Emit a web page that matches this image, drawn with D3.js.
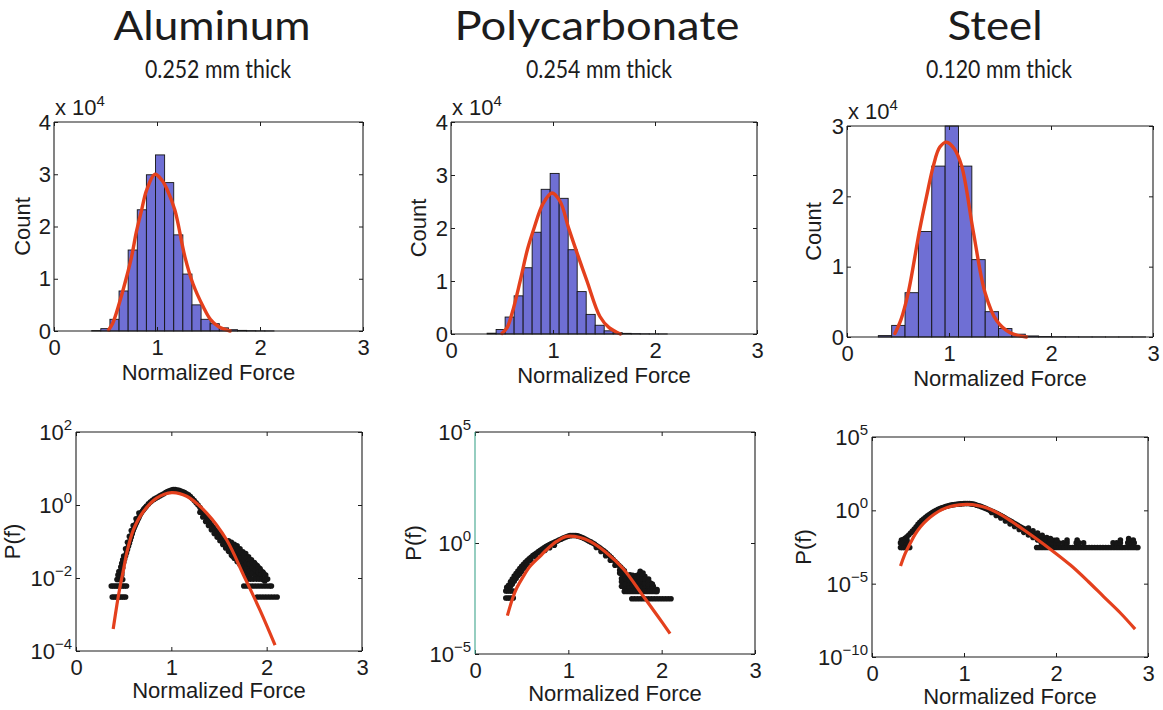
<!DOCTYPE html>
<html>
<head>
<meta charset="utf-8">
<script src="https://cdn.jsdelivr.net/npm/d3@7"></script>
<style>
  html, body { margin: 0; padding: 0; background: #fff; }
  svg { display: block; }
</style>
</head>
<body>
<svg id="chart" width="1163" height="710"></svg>
<script>
// ---------------- data ----------------
const materials   = ["Aluminum", "Polycarbonate", "Steel"];
const thicknesses = ["0.252 mm thick", "0.254 mm thick", "0.120 mm thick"];
const forceTicks  = [0, 1, 2, 3];
const countTicks  = [[0, 1, 2, 3, 4], [0, 1, 2, 3, 4], [0, 1, 2, 3]];   // x 10^4
const logTicks    = [[2, 0, -2, -4], [5, 0, -5], [5, 0, -5, -10]];      // exponents

// histograms: first bin edge, bin width, counts per bin
const alBinStart = 0.366, alBinWidth = 0.0885;
const alCounts = [80, 450, 2240, 7660, 15500, 23200, 29900, 33700, 28400, 18400,
                  10900, 5000, 2240, 1400, 600, 250, 120, 60, 30, 20];
const pcBinStart = 0.354, pcBinWidth = 0.0883;
const pcCounts = [150, 850, 3200, 7200, 12500, 19200, 27300, 30300, 25600, 15900,
                  8000, 3700, 1650, 600, 250, 120, 60, 30, 15, 10];
const stBinStart = 0.307, stBinWidth = 0.131;
const stCounts = [200, 1650, 6300, 15000, 24300, 30000, 24300, 11000, 3600, 1200,
                  400, 150, 60, 30, 20, 10, 10, 5, 5, 5];

// fitted curves over the histograms [force, count]
const alHistFit = [[0.53,200],[0.57,1500],[0.623,4600],[0.70,10000],[0.753,14200],[0.80,19000],
  [0.85,23100],[0.90,27000],[0.98,30000],[1.05,28800],[1.10,27000],[1.174,23100],[1.271,14200],
  [1.35,9000],[1.45,4600],[1.52,2200],[1.60,800],[1.71,0]];
const pcHistFit = [[0.50,100],[0.55,1200],[0.60,4000],[0.678,10000],[0.75,16000],[0.815,20000],
  [0.90,24500],[0.99,26600],[1.07,25000],[1.153,20000],[1.25,14500],[1.333,10000],[1.46,3300],
  [1.55,1200],[1.66,0]];
const stHistFit = [[0.47,500],[0.53,2500],[0.601,6340],[0.709,15000],[0.78,20000],[0.846,24300],
  [0.91,27000],[0.977,27700],[1.05,26800],[1.124,24300],[1.238,15000],[1.353,6340],[1.468,2300],
  [1.60,600],[1.76,0]];

// probability density samples [force, log10 P(f)]
const alPdf = [
  [0.38,-2.52],[0.40,-2.52],[0.42,-2.52],[0.44,-2.52],[0.46,-2.52],[0.48,-2.52],[0.50,-2.52],[0.52,-2.52],
  [0.37,-2.22],[0.39,-2.22],[0.41,-2.22],[0.43,-2.22],[0.45,-2.22],[0.47,-2.22],[0.49,-2.22],[0.51,-2.22],[0.53,-2.22],
  [0.43,-2.04],[0.45,-2.04],[0.47,-2.04],[0.49,-2.04],[0.44,-1.92],[0.46,-1.92],[0.48,-1.92],[0.45,-1.82],[0.47,-1.80],
  [0.48,-1.85],[0.49,-1.72],[0.50,-1.57],[0.51,-1.48],[0.52,-1.39],[0.53,-1.31],[0.54,-1.22],[0.55,-1.13],
  [0.56,-1.05],[0.57,-0.96],[0.58,-0.88],[0.59,-0.79],[0.60,-0.70],[0.61,-0.63],[0.62,-0.57],[0.63,-0.51],
  [0.64,-0.45],[0.65,-0.39],[0.66,-0.34],[0.67,-0.28],[0.68,-0.23],[0.69,-0.19],[0.70,-0.16],[0.71,-0.12],
  [0.72,-0.09],[0.73,-0.06],[0.74,-0.03],[0.76,0.03],[0.78,0.08],[0.80,0.12],[0.82,0.16],[0.84,0.19],
  [0.86,0.22],[0.88,0.25],[0.90,0.28],[0.92,0.31],[0.94,0.34],[0.96,0.37],[0.98,0.39],[1.00,0.41],
  [1.02,0.42],[1.04,0.42],[1.06,0.41],[1.08,0.40],[1.10,0.38],[1.12,0.36],[1.14,0.34],[1.16,0.31],
  [1.18,0.28],[1.20,0.23],[1.22,0.18],[1.24,0.12],[1.26,0.06],[1.28,0.00],[1.30,-0.07],[1.32,-0.15],
  [1.34,-0.24],[1.36,-0.32],[1.38,-0.40],[1.40,-0.47],[1.42,-0.54],[1.44,-0.61],[1.46,-0.68],[1.48,-0.75],
  [1.50,-0.81],[1.52,-0.87],[1.54,-0.93],[1.56,-0.99],[1.58,-1.04],[1.60,-1.10],[1.62,-1.16],[1.64,-1.21],
  [1.66,-1.27],[1.68,-1.32],[1.70,-1.38],[1.72,-1.43],[1.74,-1.48],[1.76,-1.54],[1.78,-1.59],[1.80,-1.64],
  [1.82,-1.69],[1.84,-1.75],[1.86,-1.80],[1.88,-1.86],[1.90,-1.91],[1.92,-1.96],[1.94,-2.00],[1.96,-2.04],[1.98,-2.08],
  [0.47,-1.70],[0.48,-1.60],[0.49,-1.50],[0.50,-1.40],[0.52,-1.20],[0.54,-1.02],[0.56,-0.86],[0.58,-0.70],
  [0.60,-0.56],[0.63,-0.38],[0.66,-0.22],
  [1.30,-0.20],[1.33,-0.33],[1.36,-0.45],[1.39,-0.56],[1.42,-0.68],[1.45,-0.78],[1.48,-0.88],[1.51,-0.98],
  [1.54,-1.08],[1.57,-1.18],[1.60,-1.27],[1.63,-1.37],[1.66,-1.46],[1.69,-1.55],[1.72,-1.63],[1.75,-1.72],
  [1.78,-1.80],[1.81,-1.88],
  [1.60,-0.98],[1.63,-1.02],[1.66,-1.08],[1.69,-1.12],[1.72,-1.20],[1.75,-1.28],[1.78,-1.33],[1.81,-1.42],
  [1.84,-1.50],[1.87,-1.58],[1.90,-1.66],[1.93,-1.74],[1.96,-1.84],[1.99,-1.92],[1.70,-1.50],[1.76,-1.42],
  [1.82,-1.55],[1.85,-1.62],[1.88,-1.70],[1.91,-1.78],
  [1.64,-1.10],[1.64,-1.25],[1.64,-1.40],[1.67,-1.15],[1.67,-1.30],[1.67,-1.45],[1.70,-1.25],[1.70,-1.55],
  [1.73,-1.30],[1.73,-1.45],[1.73,-1.60],[1.76,-1.35],[1.76,-1.50],[1.76,-1.65],[1.79,-1.45],[1.79,-1.60],
  [1.79,-1.75],[1.79,-1.90],[1.82,-1.50],[1.82,-1.62],[1.82,-1.80],[1.82,-1.95],[1.85,-1.58],[1.85,-1.72],
  [1.85,-1.88],[1.88,-1.62],[1.88,-1.78],[1.88,-1.95],[1.91,-1.70],[1.91,-1.85],[1.94,-1.80],[1.94,-1.92],
  [1.97,-1.88],
  [1.80,-2.03],[1.83,-2.03],[1.86,-2.03],[1.89,-2.03],[1.92,-2.03],[1.95,-2.03],[1.98,-2.03],[2.01,-2.03],
  [1.76,-2.22],[1.79,-2.22],[1.82,-2.22],[1.85,-2.22],[1.88,-2.22],[1.91,-2.22],[1.94,-2.22],[1.97,-2.22],
  [2.00,-2.22],[2.03,-2.22],[2.05,-2.22],
  [1.90,-2.52],[1.93,-2.52],[1.96,-2.52],[1.99,-2.52],[2.02,-2.52],[2.05,-2.52],[2.08,-2.52],[2.11,-2.52]
];
const pcPdf = [
  [0.33,-2.48],[0.35,-2.48],[0.37,-2.48],[0.39,-2.48],[0.41,-2.48],
  [0.33,-2.16],[0.35,-2.16],[0.37,-2.16],[0.39,-2.16],[0.41,-2.16],
  [0.34,-2.00],[0.36,-1.90],[0.38,-1.75],[0.40,-1.62],[0.42,-1.49],[0.44,-1.38],[0.46,-1.26],[0.48,-1.15],
  [0.50,-1.05],[0.52,-0.96],[0.54,-0.87],[0.56,-0.79],[0.58,-0.71],[0.60,-0.64],[0.62,-0.57],[0.64,-0.51],
  [0.66,-0.45],[0.68,-0.39],[0.70,-0.33],[0.72,-0.27],[0.74,-0.22],[0.76,-0.16],[0.78,-0.11],[0.80,-0.07],
  [0.82,-0.03],[0.84,0.01],[0.86,0.05],[0.88,0.09],[0.90,0.13],[0.92,0.17],[0.94,0.21],[0.96,0.25],
  [0.98,0.28],[1.00,0.31],[1.02,0.33],[1.04,0.34],[1.06,0.34],[1.08,0.34],[1.10,0.32],[1.12,0.29],
  [1.14,0.26],[1.16,0.22],[1.18,0.18],[1.20,0.13],[1.22,0.09],[1.24,0.05],[1.26,0.00],[1.28,-0.05],
  [1.30,-0.11],[1.32,-0.17],[1.34,-0.23],[1.36,-0.29],[1.38,-0.35],[1.40,-0.42],[1.42,-0.50],[1.44,-0.58],
  [1.46,-0.66],[1.48,-0.75],[1.50,-0.83],[1.52,-0.92],[1.54,-1.00],[1.56,-1.08],[1.58,-1.17],[1.60,-1.25],
  [0.38,-1.95],[0.40,-1.85],[0.42,-1.72],[0.44,-1.60],[0.46,-1.48],[0.48,-1.38],[0.50,-1.27],[0.53,-1.13],
  [0.56,-0.98],[0.60,-0.80],[0.65,-0.62],[0.70,-0.46],[0.75,-0.33],[0.80,-0.21],[0.85,-0.10],
  [1.30,-0.20],[1.35,-0.38],[1.40,-0.57],[1.45,-0.78],[1.50,-1.00],[1.55,-1.22],
  [1.55,-1.35],[1.59,-1.50],[1.63,-1.58],[1.66,-1.43],[1.70,-1.65],[1.73,-1.47],[1.77,-1.28],[1.80,-1.35],
  [1.82,-1.50],[1.84,-1.73],[1.88,-1.80],[1.91,-1.95],[1.95,-2.10],[1.66,-1.80],[1.73,-1.88],[1.80,-1.88],
  [1.63,-1.95],[1.70,-2.03],[1.77,-2.10],[1.59,-1.80],[1.62,-1.70],[1.68,-1.55],[1.75,-1.62],[1.78,-1.72],
  [1.86,-1.62],[1.60,-2.00],[1.85,-2.00],
  [1.57,-1.40],[1.57,-1.60],[1.57,-1.75],[1.57,-1.95],[1.61,-1.45],[1.61,-1.62],[1.61,-1.85],[1.65,-1.50],
  [1.65,-1.68],[1.65,-1.90],[1.65,-2.05],[1.69,-1.45],[1.69,-1.62],[1.69,-1.80],[1.69,-1.95],[1.73,-1.55],
  [1.73,-1.72],[1.73,-2.00],[1.76,-1.40],[1.76,-1.55],[1.76,-1.75],[1.76,-1.95],[1.79,-1.45],[1.79,-1.62],
  [1.79,-2.00],[1.82,-1.62],[1.82,-1.85],[1.82,-2.05],[1.86,-1.75],[1.86,-1.90],[1.86,-2.08],[1.90,-1.85],
  [1.90,-2.05],
  [1.60,-2.18],[1.63,-2.18],[1.66,-2.18],[1.69,-2.18],[1.72,-2.18],[1.75,-2.18],[1.78,-2.18],[1.81,-2.18],
  [1.84,-2.18],[1.87,-2.18],[1.90,-2.18],[1.93,-2.18],[1.95,-2.18],
  [1.68,-2.51],[1.71,-2.51],[1.74,-2.51],[1.77,-2.51],[1.80,-2.51],[1.83,-2.51],[1.86,-2.51],[1.89,-2.51],
  [1.92,-2.51],[1.95,-2.51],[1.98,-2.51],[2.01,-2.51],[2.04,-2.51],[2.07,-2.51],[2.10,-2.51]
];
const stPdf = [
  [0.31,-2.53],[0.33,-2.53],[0.35,-2.53],[0.37,-2.53],[0.39,-2.53],[0.41,-2.53],
  [0.31,-2.22],[0.33,-2.22],[0.35,-2.22],[0.37,-2.22],[0.39,-2.22],[0.32,-2.03],[0.35,-2.03],[0.38,-2.03],
  [0.32,-2.20],[0.34,-2.00],[0.36,-1.90],[0.38,-1.80],[0.40,-1.68],[0.42,-1.55],[0.44,-1.42],[0.46,-1.27],
  [0.48,-1.12],[0.50,-0.96],[0.52,-0.82],[0.54,-0.70],[0.56,-0.60],[0.58,-0.49],[0.60,-0.39],[0.62,-0.30],
  [0.64,-0.22],[0.66,-0.14],[0.68,-0.07],[0.70,0.00],[0.72,0.07],[0.74,0.12],[0.76,0.17],[0.78,0.21],
  [0.80,0.26],[0.82,0.30],[0.84,0.33],[0.86,0.36],[0.88,0.38],[0.90,0.40],[0.92,0.41],[0.94,0.43],
  [0.96,0.44],[0.98,0.45],[1.00,0.46],[1.02,0.47],[1.04,0.47],[1.06,0.46],[1.08,0.44],[1.10,0.42],
  [1.12,0.39],[1.14,0.35],[1.16,0.31],[1.18,0.27],[1.20,0.22],[1.22,0.17],[1.24,0.12],[1.26,0.06],
  [1.28,0.00],[1.30,-0.05],[1.32,-0.10],[1.34,-0.16],[1.36,-0.22],[1.38,-0.28],[1.40,-0.35],[1.42,-0.42],
  [1.44,-0.50],[1.46,-0.57],[1.48,-0.64],[1.50,-0.71],[1.52,-0.78],[1.54,-0.86],[1.56,-0.93],[1.58,-1.01],
  [1.60,-1.09],[1.62,-1.15],[1.64,-1.22],[1.66,-1.28],[1.68,-1.34],[1.70,-1.40],[1.72,-1.47],[1.74,-1.54],
  [1.76,-1.60],[1.78,-1.66],[1.80,-1.72],[1.82,-1.78],[1.84,-1.84],[1.86,-1.90],[1.88,-1.96],[1.90,-2.02],
  [1.30,-0.15],[1.35,-0.35],[1.40,-0.52],[1.45,-0.72],[1.50,-0.92],[1.55,-1.10],[1.60,-1.30],[1.65,-1.50],
  [1.70,-1.68],[1.75,-1.85],[1.80,-2.02],[1.85,-2.20],
  [1.70,-1.20],[1.75,-1.40],[1.80,-1.55],[1.85,-1.70],[1.90,-1.85],[1.94,-2.00],[1.98,-2.05],
  [1.79,-2.53],[1.82,-2.53],[1.85,-2.53],[1.88,-2.53],[1.91,-2.53],[1.94,-2.53],[1.97,-2.53],[2.00,-2.53],
  [2.03,-2.53],[2.06,-2.53],[2.09,-2.53],[2.12,-2.53],[2.15,-2.53],[2.18,-2.53],[2.21,-2.53],[2.24,-2.53],
  [2.27,-2.53],[2.30,-2.53],[2.33,-2.53],[2.36,-2.53],[2.39,-2.53],[2.42,-2.53],[2.45,-2.53],[2.48,-2.53],
  [2.51,-2.53],[2.54,-2.53],[2.57,-2.53],[2.60,-2.53],[2.63,-2.53],[2.66,-2.53],[2.69,-2.53],[2.72,-2.53],
  [2.75,-2.53],[2.78,-2.53],[2.81,-2.53],[2.84,-2.53],[2.87,-2.53],[2.89,-2.53],
  [1.84,-2.22],[1.87,-2.22],[1.90,-2.22],[1.93,-2.22],[1.96,-2.22],[2.00,-2.22],[2.03,-2.22],[2.08,-2.22],
  [2.12,-2.22],[2.22,-2.22],[2.25,-2.22],[2.30,-2.22],[2.62,-2.22],[2.66,-2.22],[2.70,-2.22],[2.78,-2.22],
  [2.82,-2.22],[2.85,-2.22],
  [1.87,-2.03],[1.94,-2.03],[2.01,-2.03],[2.12,-2.03],[2.23,-2.03],[2.70,-2.03],[2.79,-2.03],[2.84,-2.03],
  [1.94,-1.92],[2.79,-1.92]
];

// fitted curves over the densities [force, log10 P(f)]
const alPdfFit = [[0.39,-3.40],[0.43,-2.72],[0.462,-2.24],[0.50,-1.75],[0.532,-1.32],[0.602,-0.684],
  [0.707,-0.18],[0.846,0.19],[1.004,0.34],[1.161,0.24],[1.371,-0.22],[1.581,-0.96],[1.757,-1.92],
  [1.93,-2.88],[2.088,-3.84]];
const pcPdfFit = [[0.347,-3.27],[0.404,-2.48],[0.447,-2.03],[0.518,-1.50],[0.590,-1.05],[0.697,-0.60],
  [0.768,-0.30],[0.875,0.07],[0.983,0.30],[1.125,0.25],[1.233,0.07],[1.411,-0.45],[1.590,-1.17],
  [1.804,-2.40],[1.947,-3.23],[2.090,-4.08]];
const stPdfFit = [[0.31,-3.80],[0.36,-2.95],[0.42,-2.20],[0.47,-1.62],[0.53,-1.10],[0.60,-0.65],
  [0.68,-0.25],[0.76,0.05],[0.85,0.26],[0.95,0.37],[1.04,0.40],[1.14,0.34],[1.25,0.16],[1.36,-0.16],
  [1.48,-0.60],[1.62,-1.20],[1.79,-1.95],[1.97,-2.80],[2.16,-3.75],[2.35,-4.85],[2.52,-5.90],
  [2.70,-7.00],[2.86,-8.10]];

// ---------------- layout & style ----------------
const FONT = "'Liberation Sans', Arial, Helvetica, sans-serif";
const TITLE_FONT = "Lato, 'Open Sans', sans-serif";
const BAR_FILL = "#6f6fd4";
const FIT_RED = "#e4401d";
const INK = "#1c1c1c";

const histFrames = [[54, 122, 363, 331], [451, 122, 757, 334], [847, 126, 1153, 337]];
const pdfFrames  = [[76, 432, 362, 651], [475, 432, 755, 654], [872, 437, 1148, 657]];
const countLabelX = [29.5, 426.3, 821.3];
const pdfLabelX   = [19.7, 421.3, 811.3];
const titleX      = [212, 597, 995];
const subtitleX   = [218, 599, 999];
const titleW      = [197, 285, 95];
const subtitleW   = [146, 146, 146];

const svg = d3.select("#chart");

const histSets = [
  {start: alBinStart, width: alBinWidth, counts: alCounts, fit: alHistFit},
  {start: pcBinStart, width: pcBinWidth, counts: pcCounts, fit: pcHistFit},
  {start: stBinStart, width: stBinWidth, counts: stCounts, fit: stHistFit}
];
const pdfSets = [
  {pts: alPdf, fit: alPdfFit},
  {pts: pcPdf, fit: pcPdfFit},
  {pts: stPdf, fit: stPdfFit}
];

// titles
materials.forEach((m, i) => {
  svg.append("text").attr("x", titleX[i]).attr("y", 40)
    .attr("text-anchor", "middle").attr("font-family", TITLE_FONT)
    .attr("font-size", 40).attr("fill", INK)
    .attr("textLength", titleW[i]).attr("lengthAdjust", "spacingAndGlyphs")
    .text(m);
  svg.append("text").attr("x", subtitleX[i]).attr("y", 78)
    .attr("text-anchor", "middle").attr("font-family", TITLE_FONT)
    .attr("font-size", 25).attr("fill", INK)
    .attr("textLength", subtitleW[i]).attr("lengthAdjust", "spacingAndGlyphs")
    .text(thicknesses[i]);
});

// box with inward ticks on all four sides
function drawFrame(g, fr, x, y, yVals, yFmt, leftColor) {
  const [l, t, r, b] = fr;
  const style = sel => {
    sel.attr("font-size", 22).attr("font-family", FONT).attr("color", INK);
    sel.selectAll(".domain").remove();
    sel.selectAll(".tick line").attr("stroke-width", 1);
  };
  g.append("g").attr("transform", `translate(0,${b})`)
    .call(d3.axisBottom(x).tickValues(forceTicks).tickSize(-4).tickPadding(8).tickFormat(d3.format("d")))
    .call(style);
  g.append("g").attr("transform", `translate(0,${t})`)
    .call(d3.axisTop(x).tickValues(forceTicks).tickSize(-4).tickFormat(""))
    .call(style);
  g.append("g").attr("transform", `translate(${l},0)`)
    .call(d3.axisLeft(y).tickValues(yVals).tickSize(-4).tickPadding(3).tickFormat(yFmt))
    .call(style);
  g.append("g").attr("transform", `translate(${r},0)`)
    .call(d3.axisRight(y).tickValues(yVals).tickSize(-4).tickFormat(""))
    .call(style);
  const lines = [
    [l, t, r, t, INK], [r, t, r, b, INK], [l, b, r, b, INK], [l, t, l, b, leftColor || INK]
  ];
  g.selectAll(null).data(lines).join("line")
    .attr("x1", d => d[0]).attr("y1", d => d[1]).attr("x2", d => d[2]).attr("y2", d => d[3])
    .attr("stroke", d => d[4]).attr("stroke-width", 1.1);
}

// top row: histograms with fitted curves
histSets.forEach((h, i) => {
  const fr = histFrames[i];
  const [l, t, r, b] = fr;
  const g = svg.append("g");
  const x = d3.scaleLinear().domain([0, 3]).range([l, r]);
  const yMax = d3.max(countTicks[i]) * 1e4;
  const y = d3.scaleLinear().domain([0, yMax]).range([b, t]);

  const bins = h.counts.map((c, k) => ({x0: h.start + k * h.width, x1: h.start + (k + 1) * h.width, c}));
  g.selectAll(null).data(bins).join("rect")
    .attr("x", d => x(d.x0)).attr("y", d => y(d.c))
    .attr("width", d => x(d.x1) - x(d.x0)).attr("height", d => y(0) - y(d.c))
    .attr("fill", BAR_FILL).attr("stroke", "#141414").attr("stroke-width", 0.9);

  g.append("path").datum(h.fit)
    .attr("d", d3.line().x(d => x(d[0])).y(d => Math.min(y(0), y(d[1]))).curve(d3.curveCatmullRom.alpha(0.5)))
    .attr("fill", "none").attr("stroke", FIT_RED).attr("stroke-width", 3.4)
    .attr("stroke-linecap", "round");

  drawFrame(g, fr, x, y, countTicks[i].map(v => v * 1e4), v => d3.format("d")(v / 1e4));

  // exponent note above the count axis
  const note = g.append("text").attr("x", l + 1).attr("y", t - 7)
    .attr("font-family", FONT).attr("font-size", 22).attr("fill", INK);
  note.append("tspan").text("x 10");
  note.append("tspan").attr("dy", -9).attr("font-size", 15).text("4");

  g.append("text").attr("x", (l + r) / 2).attr("y", b + 49)
    .attr("text-anchor", "middle").attr("font-family", FONT).attr("font-size", 22).attr("fill", INK)
    .text("Normalized Force");
  g.append("text")
    .attr("transform", `translate(${countLabelX[i]},${(t + b) / 2}) rotate(-90)`)
    .attr("text-anchor", "middle").attr("font-family", FONT).attr("font-size", 22).attr("fill", INK)
    .text("Count");
});

// bottom row: densities on log axes with fitted curves
pdfSets.forEach((p, i) => {
  const fr = pdfFrames[i];
  const [l, t, r, b] = fr;
  const g = svg.append("g");
  const ex = logTicks[i];
  const x = d3.scaleLinear().domain([0, 3]).range([l, r]);
  const y = d3.scaleLog().domain([10 ** d3.min(ex), 10 ** d3.max(ex)]).range([b, t]);

  g.selectAll(null).data(p.pts).join("circle")
    .attr("cx", d => x(d[0])).attr("cy", d => y(10 ** d[1]))
    .attr("r", 2.8).attr("fill", "#161616");

  g.append("path").datum(p.fit)
    .attr("d", d3.line().x(d => x(d[0])).y(d => y(10 ** d[1])).curve(d3.curveCatmullRom.alpha(0.5)))
    .attr("fill", "none").attr("stroke", FIT_RED).attr("stroke-width", 3.2)
    .attr("stroke-linecap", "butt");

  drawFrame(g, fr, x, y, ex.map(e => 10 ** e), () => "", i === 1 ? "#3fa58c" : null);

  // power-of-ten tick labels
  ex.forEach(e => {
    const lab = g.append("text").attr("x", l - 4).attr("y", y(10 ** e) + 8)
      .attr("text-anchor", "end").attr("font-family", FONT).attr("font-size", 22).attr("fill", INK);
    lab.append("tspan").text("10");
    lab.append("tspan").attr("dy", -10).attr("font-size", 15).text(String(e).replace("-", "\u2212"));
  });

  g.append("text").attr("x", (l + r) / 2).attr("y", b + 47)
    .attr("text-anchor", "middle").attr("font-family", FONT).attr("font-size", 22).attr("fill", INK)
    .text("Normalized Force");
  g.append("text")
    .attr("transform", `translate(${pdfLabelX[i]},${(t + b) / 2}) rotate(-90)`)
    .attr("text-anchor", "middle").attr("font-family", FONT).attr("font-size", 22).attr("fill", INK)
    .text("P(f)");
});
</script>
</body>
</html>
